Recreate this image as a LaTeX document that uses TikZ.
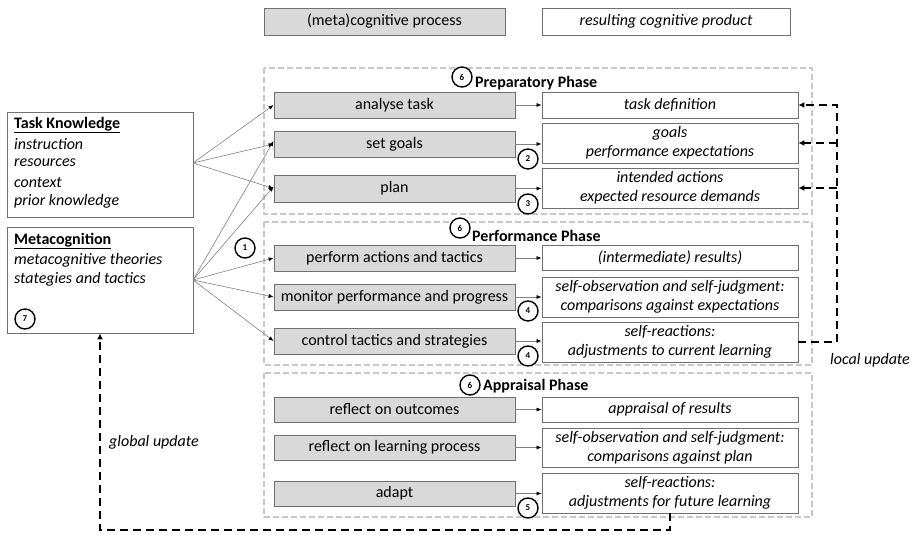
\documentclass[tikz,border=0pt]{standalone}
\usepackage{fontspec}
\setmainfont{Carlito}
\usetikzlibrary{arrows.meta}
\definecolor{procfill}{HTML}{D9D9D9}
\definecolor{boxline}{HTML}{707070}
\definecolor{phaseline}{HTML}{C8C8C8}
\definecolor{connline}{HTML}{808080}
\newcommand{\fs}{\fontsize{16}{19}\selectfont}
\begin{document}
\begin{tikzpicture}[x=1pt,y=-1pt,
  every node/.style={font=\fs},
  proc/.style={draw=boxline, fill=procfill, line width=0.8pt, minimum width=241pt, inner sep=0pt, align=center},
  prod/.style={draw=boxline, fill=white, line width=0.8pt, minimum width=256pt, inner sep=0pt, align=center, font=\fs\itshape},
  phasebox/.style={draw=phaseline, line width=1.3pt, dash pattern=on 6pt off 3pt},
  num/.style={circle, draw=black, fill=white, line width=1.4pt, minimum size=20pt, inner sep=0pt, font=\fontsize{9}{9}\selectfont\bfseries},
  conn/.style={draw=connline, line width=0.6pt, -{Latex[length=5pt,width=4pt,color=black]}},
  upd/.style={draw=black, line width=2pt, dash pattern=on 8pt off 5pt},
  updarrow/.style={upd, -{Latex[length=6pt,width=6pt]}},
  lefttxt/.style={anchor=west, inner sep=0pt},
  phasetitle/.style={anchor=west, inner sep=0pt, font=\fs\bfseries}
]
\useasboundingbox (0,0) rectangle (916,535);

% legend
\node[proc, minimum height=27pt] (lg1) at (384.5,21.5) {(meta)cognitive process};
\node[prod, minimum width=248pt, minimum height=27pt] (lg2) at (666,21.5) {resulting cognitive product};

% phase boxes
\draw[phasebox] (264,68) rectangle (812,214);
\draw[phasebox] (264,222) rectangle (812,365);
\draw[phasebox] (264,373) rectangle (812,517);

% left boxes
\node[draw=boxline, line width=0.8pt, minimum width=186pt, minimum height=105pt, inner sep=0pt] (tk) at (100,164.5) {};
\node[draw=boxline, line width=0.8pt, minimum width=186pt, minimum height=106pt, inner sep=0pt] (meta) at (100,280) {};
\node[lefttxt, font=\fs\bfseries] (tkt) at (14,125) {\underline{Task Knowledge}};
\node[lefttxt, font=\fs\itshape] (tk1) at (14,144) {instruction};
\node[lefttxt, font=\fs\itshape] (tk2) at (14,163) {resources};
\node[lefttxt, font=\fs\itshape] (tk3) at (14,182) {context};
\node[lefttxt, font=\fs\itshape] (tk4) at (14,201) {prior knowledge};
\node[lefttxt, font=\fs\bfseries] (mt) at (14,241) {\underline{Metacognition}};
\node[lefttxt, font=\fs\itshape] (m1) at (14,260) {metacognitive theories};
\node[lefttxt, font=\fs\itshape] (m2) at (14,279) {stategies and tactics};
\node[num] (n7) at (25,319) {7};

% process boxes
\node[proc, minimum height=26pt] (at) at (394.5,105) {analyse task};
\node[proc, minimum height=26pt] (sg) at (394.5,144) {set goals};
\node[proc, minimum height=27pt] (pl) at (394.5,188.5) {plan};
\node[proc, minimum height=26pt] (pa) at (394.5,258) {perform actions and tactics};
\node[proc, minimum height=26pt] (mp) at (394.5,297) {monitor performance and progress};
\node[proc, minimum height=26pt] (ct) at (394.5,341) {control tactics and strategies};
\node[proc, minimum height=25pt] (ro) at (394.5,409.5) {reflect on outcomes};
\node[proc, minimum height=25pt] (rl) at (394.5,447.5) {reflect on learning process};
\node[proc, minimum height=25pt] (ad) at (394.5,493.5) {adapt};

% product boxes
\node[prod, minimum height=26pt] (td) at (670,105) {task definition};
\node[prod, minimum height=40pt] (gl) at (670,143) {goals\\performance expectations};
\node[prod, minimum height=40pt] (ia) at (670,188) {intended actions\\expected resource demands};
\node[prod, minimum height=25pt] (ir) at (670,257.5) {(intermediate) results)};
\node[prod, minimum height=40pt] (so) at (670,297) {self-observation and self-judgment:\\comparisons against expectations};
\node[prod, minimum height=40pt] (sr) at (670,342) {self-reactions:\\adjustments to current learning};
\node[prod, minimum height=25pt] (ar) at (670,409.5) {appraisal of results};
\node[prod, minimum height=39pt] (sp) at (670,447.5) {self-observation and self-judgment:\\comparisons against plan};
\node[prod, minimum height=40pt] (sf) at (670,493) {self-reactions:\\adjustments for future learning};

% process -> product
\draw[conn] (at.east) -- (at.east -| td.west);
\draw[conn] (sg.east) -- (sg.east -| gl.west);
\draw[conn] (pl.east) -- (pl.east -| ia.west);
\draw[conn] (pa.east) -- (pa.east -| ir.west);
\draw[conn] (mp.east) -- (mp.east -| so.west);
\draw[conn] (ct.east) -- (ct.east -| sr.west);
\draw[conn] (ro.east) -- (ro.east -| ar.west);
\draw[conn] (rl.east) -- (rl.east -| sp.west);
\draw[conn] (ad.east) -- (ad.east -| sf.west);

% left connectors
\coordinate (tko) at (193,163);
\coordinate (mo) at (193,280);
\draw[conn] (tko) -- (at.west);
\draw[conn] (tko) -- (sg.west);
\draw[conn] (tko) -- (pl.west);
\draw[conn] (mo) -- ([yshift=3pt]sg.west);
\draw[conn] (mo) -- ([yshift=2pt]pl.west);
\draw[conn] (mo) -- (pa.west);
\draw[conn] (mo) -- (mp.west);
\draw[conn] (mo) -- (ct.west);

% numbered circles
\node[num] (n1) at (245,248) {1};
\node[num] (n2) at (528,159) {2};
\node[num] (n3) at (528,204) {3};
\node[num] (n4a) at (528,311) {4};
\node[num] (n4b) at (528,356) {4};
\node[num] (n5) at (528,508) {5};
\node[num] (n6a) at (462,77) {6};
\node[num] (n6b) at (460,228) {6};
\node[num] (n6c) at (470,385) {6};

% phase titles
\node[phasetitle] (pt1) at (475,83) {Preparatory Phase};
\node[phasetitle] (pt2) at (472,236) {Performance Phase};
\node[phasetitle] (pt3) at (483,386) {Appraisal Phase};

% local update
\coordinate (lb) at (837,342);
\coordinate (lt) at (837,105);
\draw[updarrow] (sr.east) -- (lb) -- (lt) -- (td.east);
\draw[updarrow] (lb |- gl.east) -- (gl.east);
\draw[updarrow] (lb |- ia.east) -- (ia.east);
\node[font=\fs\itshape] (lu) at (870,360) {local update};

% global update
\coordinate (gb) at (670,530);
\draw[updarrow] (sf.south) -- (gb) -| (meta.south);
\node[lefttxt, font=\fs\itshape] (gu) at (109,442) {global update};
\end{tikzpicture}
\end{document}
